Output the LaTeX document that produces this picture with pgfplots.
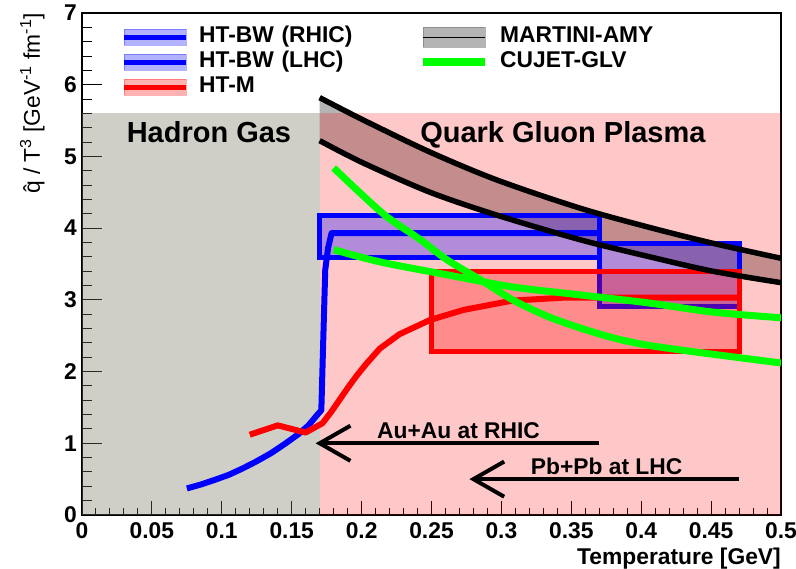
\documentclass[border=0pt]{standalone}
\usepackage{pgfplots}
\pgfplotsset{compat=1.18}
\usepackage{pgfplotstable}
\usepgfplotslibrary{fillbetween}
\usepackage{fontspec}
\setmainfont{Liberation Sans}

\definecolor{hgas}{RGB}{118,118,98}
\definecolor{cujet}{RGB}{0,255,0}
\definecolor{bandgray}{RGB}{105,105,105}

\newcommand{\lab}{\fontsize{22.8bp}{27bp}\selectfont\bfseries}
\newcommand{\reg}{\fontsize{22.8bp}{27bp}\selectfont}
\newcommand{\regionfont}{\fontsize{29bp}{34bp}\selectfont\bfseries}

% HT-BW (RHIC) central curve
\pgfplotstableread{
x y
0.075 0.37
0.085 0.425
0.095 0.49
0.105 0.56
0.115 0.65
0.125 0.75
0.135 0.86
0.145 0.99
0.155 1.13
0.162 1.25
0.168 1.39
0.1712 1.46
0.1728 2.60
0.1740 3.42
0.1760 3.72
0.1785 3.93
0.370 3.93
}\htbw

% HT-M central curve
\pgfplotstableread{
x y
0.120 1.12
0.140 1.25
0.160 1.15
0.172 1.28
0.178 1.43
0.184 1.60
0.190 1.77
0.196 1.93
0.203 2.10
0.213 2.32
0.227 2.52
0.249 2.72
0.273 2.86
0.308 2.99
0.344 3.03
0.380 3.03
0.470 3.03
}\htm

% MARTINI-AMY band edges
\pgfplotstableread{
x y
0.170 5.82
0.201 5.51
0.249 5.06
0.297 4.67
0.356 4.28
0.404 4.02
0.451 3.79
0.500 3.58
}\amyup
\pgfplotstableread{
x y
0.170 5.22
0.201 4.91
0.249 4.50
0.297 4.18
0.356 3.84
0.404 3.61
0.451 3.40
0.500 3.24
}\amylo

% CUJET-GLV band edges
\pgfplotstableread{
x y
0.180 4.84
0.199 4.49
0.218 4.16
0.242 3.84
0.261 3.56
0.285 3.28
0.308 3.00
0.333 2.77
0.356 2.61
0.380 2.47
0.404 2.37
0.440 2.27
0.500 2.12
}\glvA
\pgfplotstableread{
x y
0.180 3.70
0.213 3.53
0.261 3.35
0.308 3.18
0.356 3.07
0.404 2.96
0.451 2.83
0.500 2.75
}\glvB

\begin{document}
\begin{tikzpicture}
\begin{axis}[
  scale only axis, width=699bp, height=502bp,
  xmin=0, xmax=0.5, ymin=0, ymax=7,
  axis line style={line width=1.2bp},
  tick align=inside, xtick pos=bottom, ytick pos=left,
  xtick={0,0.05,0.1,0.15,0.2,0.25,0.3,0.35,0.4,0.45,0.5},
  xticklabels={0,0.05,0.1,0.15,0.2,0.25,0.3,0.35,0.4,0.45,0.5},
  ytick={0,1,2,3,4,5,6,7},
  yticklabels={0,1,2,3,4,5,6,7},
  scaled x ticks=false,
  minor x tick num=4, minor y tick num=4,
  xtick style={black, line width=1bp, /pgfplots/major tick length=14bp, /pgfplots/minor tick length=7bp},
  ytick style={black, line width=1bp, /pgfplots/major tick length=20bp, /pgfplots/minor tick length=10bp},
  xticklabel style={font=\lab, inner sep=0pt, yshift=-7bp},
  yticklabel style={font=\lab, inner sep=0pt, xshift=-5bp},
  xlabel={Temperature [GeV]},
  every axis x label/.style={at={(rel axis cs:1,0)}, anchor=base east, yshift=-49bp, inner sep=0pt, font=\lab},
  ylabel={\^q / T\textsuperscript{3} [GeV\textsuperscript{-1} fm\textsuperscript{-1}]},
  every axis y label/.style={at={(rel axis cs:0,1)}, xshift=-42bp, rotate=90, anchor=base east, inner sep=0pt, font=\reg},
  legend columns=2,
  legend cell align=left,
  legend style={at={(rel axis cs:0.0558,0.974)}, anchor=north west, draw=none, fill=none,
    inner sep=0pt, column sep=11bp, row sep=3bp, font=\lab,
    nodes={text width=209bp, text height=16.5bp, text depth=5.5bp, inner sep=0pt, align=left}},
]

% phase regions
\addplot[draw=none, fill=hgas, fill opacity=0.35, forget plot] coordinates {(0,0) (0,5.6) (0.17,5.6) (0.17,0)} -- cycle;
\addplot[draw=none, fill=red, fill opacity=0.216, forget plot] coordinates {(0.17,0) (0.17,5.6) (0.5,5.6) (0.5,0)} -- cycle;

% MARTINI-AMY band (fill)
\addplot[draw=none, name path=amyU, forget plot] table {\amyup};
\addplot[draw=none, name path=amyL, forget plot] table {\amylo};
\addplot[bandgray, fill opacity=0.5, draw=none, forget plot] fill between[of=amyU and amyL];

% HT-BW uncertainty boxes and HT-M box
\addplot[draw=blue, line width=5bp, fill=blue, fill opacity=0.3, forget plot] coordinates {(0.17,3.585) (0.37,3.585) (0.37,4.17) (0.17,4.17)} -- cycle;
\addplot[draw=blue, line width=5bp, fill=blue, fill opacity=0.3, forget plot] coordinates {(0.37,2.91) (0.47,2.91) (0.47,3.79) (0.37,3.79)} -- cycle;
\addplot[draw=red, line width=5bp, fill=red, fill opacity=0.3, forget plot] coordinates {(0.25,2.28) (0.47,2.28) (0.47,3.40) (0.25,3.40)} -- cycle;

% central curves
\addplot[blue, line width=6bp, line join=round, forget plot] table {\htbw};
\addplot[red, line width=6bp, line join=round, forget plot] table {\htm};

% MARTINI-AMY band edges
\addplot[black, line width=5.5bp, smooth, forget plot] table {\amyup};
\addplot[black, line width=5.5bp, smooth, forget plot] table {\amylo};

% CUJET-GLV edges
\addplot[cujet, line width=7bp, smooth, forget plot] table {\glvA};
\addplot[cujet, line width=7bp, smooth, forget plot] table {\glvB};

% collision energy arrows
\addplot[black, line width=4bp, forget plot] coordinates {(0.37,1.0) (0.17,1.0)};
\addplot[black, line width=4bp, forget plot] coordinates {(0.192,1.245) (0.17,1.0) (0.192,0.755)};
\addplot[black, line width=4bp, forget plot] coordinates {(0.47,0.5) (0.28,0.5)};
\addplot[black, line width=4bp, forget plot] coordinates {(0.302,0.745) (0.28,0.5) (0.302,0.255)};

\node[font=\lab, anchor=base west, inner sep=0pt] at (axis cs:0.211,1.06) {Au+Au at RHIC};
\node[font=\lab, anchor=base west, inner sep=0pt] at (axis cs:0.321,0.57) {Pb+Pb at LHC};
\node[font=\regionfont, anchor=base, inner sep=0pt] at (axis cs:0.0908,5.20) {Hadron Gas};
\node[font=\regionfont, anchor=base, inner sep=0pt] at (axis cs:0.344,5.20) {Quark Gluon Plasma};

% legend
\addlegendimage{legend image code/.code={\fill[blue,opacity=0.3] (0bp,-8bp) rectangle (62bp,8bp); \draw[blue,line width=5bp] (0bp,0bp) -- (62bp,0bp);}}
\addlegendentry{HT-BW (RHIC)}
\addlegendimage{legend image code/.code={\fill[bandgray,opacity=0.5] (0bp,-10bp) rectangle (62bp,10bp); \draw[black,line width=1.2bp] (0bp,0bp) -- (62bp,0bp);}}
\addlegendentry{MARTINI-AMY}
\addlegendimage{legend image code/.code={\fill[blue,opacity=0.3] (0bp,-8bp) rectangle (62bp,8bp); \draw[blue,line width=5bp] (0bp,0bp) -- (62bp,0bp);}}
\addlegendentry{HT-BW (LHC)}
\addlegendimage{legend image code/.code={\draw[cujet,line width=8bp] (0bp,0bp) -- (62bp,0bp);}}
\addlegendentry{CUJET-GLV}
\addlegendimage{legend image code/.code={\fill[red,opacity=0.3] (0bp,-8bp) rectangle (62bp,8bp); \draw[red,line width=5bp] (0bp,0bp) -- (62bp,0bp);}}
\addlegendentry{HT-M}
\end{axis}
\pgfresetboundingbox
\useasboundingbox (-82bp,-54bp) rectangle (714bp,515bp);
\end{tikzpicture}
\end{document}
